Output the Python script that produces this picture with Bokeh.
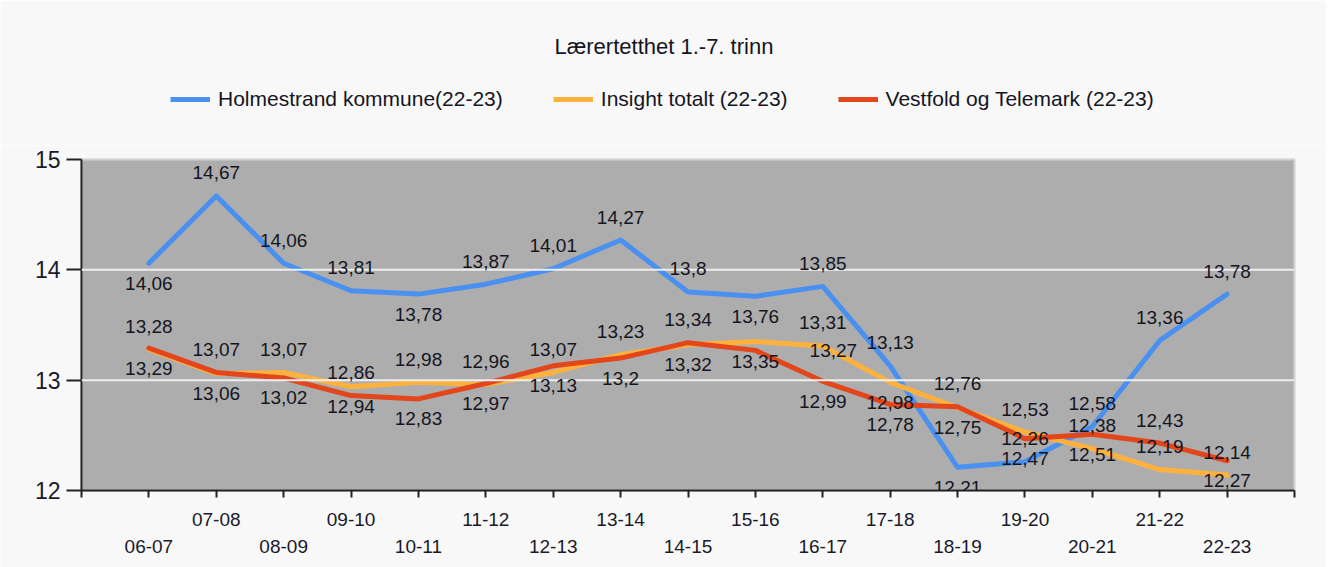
from bokeh.plotting import figure
from bokeh.layouts import column
from bokeh.core.properties import value
from bokeh.models import (Range1d, FixedTicker, LinearAxis, Legend, LegendItem,
                          ColumnDataSource, LabelSet, Span)
from bokeh.embed import file_html
from bokeh.resources import INLINE

# ---------------- data ----------------
seasons = ["06-07", "07-08", "08-09", "09-10", "10-11", "11-12", "12-13", "13-14",
           "14-15", "15-16", "16-17", "17-18", "18-19", "19-20", "20-21", "21-22", "22-23"]
holmestrand = [14.06, 14.67, 14.06, 13.81, 13.78, 13.87, 14.01, 14.27, 13.80,
               13.76, 13.85, 13.13, 12.21, 12.26, 12.58, 13.36, 13.78]
insight = [13.28, 13.06, 13.07, 12.94, 12.98, 12.96, 13.07, 13.23, 13.32,
           13.35, 13.31, 12.98, 12.75, 12.53, 12.38, 12.19, 12.14]
vestfold = [13.29, 13.07, 13.02, 12.86, 12.83, 12.97, 13.13, 13.20, 13.34,
            13.27, 12.99, 12.78, 12.76, 12.47, 12.51, 12.43, 12.27]
series_names = ["Holmestrand kommune(22-23)", "Insight totalt (22-23)",
                "Vestfold og Telemark (22-23)"]
title_text = "Lærertetthet 1.-7. trinn"
y_ticks = [12, 13, 14, 15]

# ---------------- style / layout ----------------
colors = ["#4a90f0", "#ffb13d", "#e2461a"]
# label placement per point: a = above, b = below, r = right
label_place = ["baaabaaaabaabaaaa", "ababaaaabbabbaaaa", "bababbbbarbbabbab"]
FONT = "Liberation Sans"
BG = "#f8f8f8"
TXT = "#15151f"
W = 1326

n = len(seasons)
xs = list(range(n))
all_vals = [holmestrand, insight, vestfold]

# ---------- header: title + legend ----------
head = figure(width=W, height=145, output_backend="svg", toolbar_location=None,
              x_range=Range1d(100, 101), y_range=Range1d(100, 101),
              min_border_left=81, min_border_right=32, min_border_top=58, min_border_bottom=0,
              x_axis_type=None, y_axis_type=None)
head.border_fill_color = BG
head.background_fill_color = BG
head.outline_line_color = None
head.xgrid.visible = False
head.ygrid.visible = False
# series drawn outside the header's visible range: they only feed the legend swatches
head_r = [head.line(xs, vals, line_color=c, line_width=5) for vals, c in zip(all_vals, colors)]

legend = Legend(items=[LegendItem(label=nm, renderers=[r]) for nm, r in zip(series_names, head_r)],
                orientation="horizontal", location=(89, 34))
legend.label_text_font = FONT
legend.label_text_font_size = "21px"
legend.label_text_color = TXT
legend.glyph_width = 40
legend.label_standoff = 8
legend.spacing = 50
legend.padding = 5
legend.margin = 0
legend.border_line_color = None
legend.background_fill_alpha = 0
head.add_layout(legend, "center")

head.title.text = title_text
head.title.align = "left"
head.title.offset = 473
head.title.vertical_align = "bottom"
head.title.text_font = FONT
head.title.text_font_size = "22px"
head.title.text_font_style = "normal"
head.title.text_color = TXT
head.title.standoff = 0

# ---------- main chart ----------
p = figure(width=W, height=422, output_backend="svg", toolbar_location=None,
           x_range=Range1d(-1, n), y_range=Range1d(12, 15),
           min_border_left=81, min_border_right=32, min_border_top=14,
           min_border_bottom=77, x_axis_type=None, y_axis_type=None)
p.border_fill_color = BG
p.background_fill_color = "#adadad"
p.outline_line_color = "#d2d2d2"
p.outline_line_width = 2
p.xgrid.visible = False
p.ygrid.visible = False

yax = LinearAxis(ticker=FixedTicker(ticks=y_ticks))
yax.axis_line_color = "#222222"
yax.axis_line_width = 2
yax.major_tick_line_color = "#222222"
yax.major_tick_line_width = 2
yax.major_tick_out = 15
yax.major_tick_in = 0
yax.minor_tick_line_color = None
yax.major_label_standoff = 6
yax.major_label_text_font = FONT
yax.major_label_text_font_size = "23px"
yax.major_label_text_color = "#1a1a2a"
p.add_layout(yax, "left")

tick_pos = list(range(-1, n + 1))
over1 = {t: (seasons[t] if 0 <= t < n and t % 2 == 1 else "") for t in tick_pos}
xax1 = LinearAxis(ticker=FixedTicker(ticks=tick_pos), major_label_overrides=over1)
xax1.axis_line_color = "#222222"
xax1.axis_line_width = 2
xax1.major_tick_line_color = "#222222"
xax1.major_tick_line_width = 2
xax1.major_tick_out = 7
xax1.major_tick_in = 0
xax1.minor_tick_line_color = None
xax1.major_label_standoff = 15
xax1.major_label_text_font = FONT
xax1.major_label_text_font_size = "19px"
xax1.major_label_text_color = "#1a1a2a"
p.add_layout(xax1, "below")

even_ticks = [t for t in range(n) if t % 2 == 0]
over2 = {t: seasons[t] for t in even_ticks}
xax2 = LinearAxis(ticker=FixedTicker(ticks=even_ticks), major_label_overrides=over2)
xax2.axis_line_color = None
xax2.major_tick_line_color = None
xax2.minor_tick_line_color = None
xax2.major_tick_out = 0
xax2.major_tick_in = 0
xax2.major_label_standoff = 11
xax2.major_label_text_font = FONT
xax2.major_label_text_font_size = "19px"
xax2.major_label_text_color = "#1a1a2a"
p.add_layout(xax2, "below")

for gv in y_ticks[1:3]:
    p.add_layout(Span(location=gv, dimension="width", line_color="#eeeeee", line_width=2))

for vals, c in zip(all_vals, colors):
    p.line(xs, vals, line_color=c, line_width=5, line_join="round", line_cap="round")

for vals, place in zip(all_vals, label_place):
    xo, yo, txt = [], [], []
    for v, pl in zip(vals, place):
        txt.append(("%g" % v).replace(".", ","))
        if pl == "a":
            xo.append(0); yo.append(23)
        elif pl == "b":
            xo.append(0); yo.append(-20)
        else:
            xo.append(78); yo.append(0)
    src = ColumnDataSource(dict(x=xs, y=vals, t=txt, xo=xo, yo=yo))
    p.add_layout(LabelSet(x="x", y="y", text="t", source=src, x_offset="xo", y_offset="yo",
                          text_align="center", text_baseline="middle",
                          text_font=value(FONT), text_font_size=value("19px"),
                          text_color=TXT))

lay = column(head, p, spacing=0)
open("out.html", "w").write(file_html(lay, INLINE))
